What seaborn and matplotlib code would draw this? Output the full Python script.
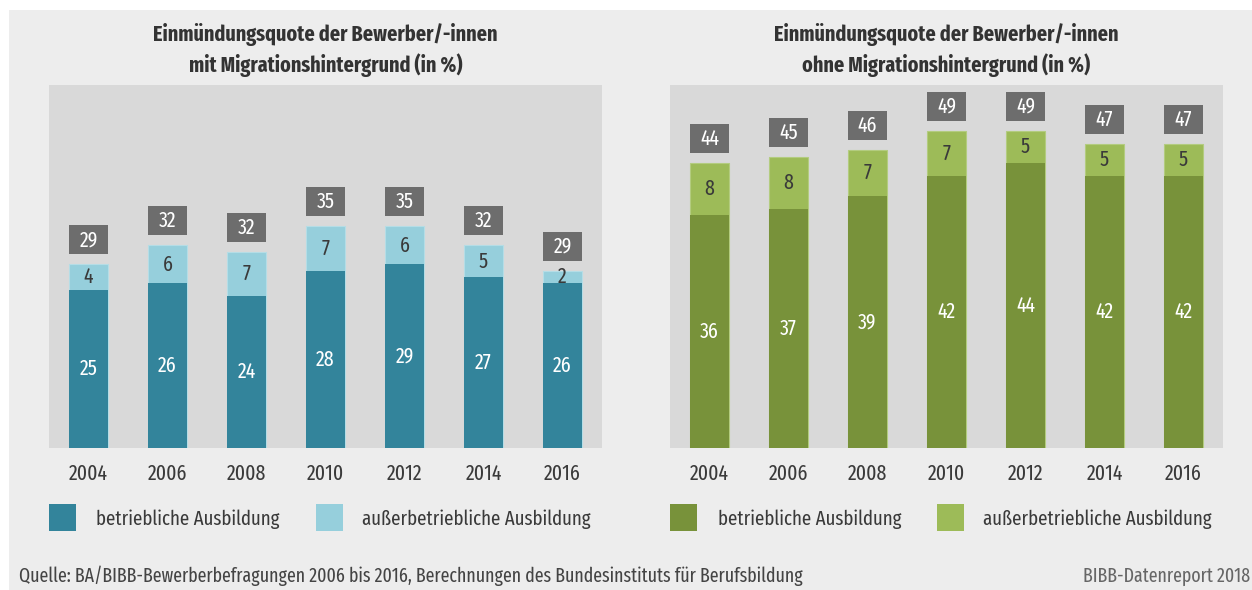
import matplotlib
matplotlib.use("Agg")
import matplotlib.pyplot as plt
from matplotlib.patches import Rectangle
import seaborn as sns
import pandas as pd

# ---- data -------------------------------------------------------------
years = ["2004", "2006", "2008", "2010", "2012", "2014", "2016"]

mit_betrieblich = [25, 26, 24, 28, 29, 27, 26]
mit_ausserbetrieblich = [4, 6, 7, 7, 6, 5, 2]
mit_gesamt = [29, 32, 32, 35, 35, 32, 29]

ohne_betrieblich = [36, 37, 39, 42, 44, 42, 42]
ohne_ausserbetrieblich = [8, 8, 7, 7, 5, 5, 5]
ohne_gesamt = [44, 45, 46, 49, 49, 47, 47]

title_mit = "Einmündungsquote der Bewerber/-innen\nmit Migrationshintergrund (in %)"
title_ohne = "Einmündungsquote der Bewerber/-innen\nohne Migrationshintergrund (in %)"
legend_labels = ["betriebliche Ausbildung", "außerbetriebliche Ausbildung"]
source_text = ("Quelle: BA/BIBB-Bewerberbefragungen 2006 bis 2016, "
               "Berechnungen des Bundesinstituts für Berufsbildung")
report_text = "BIBB-Datenreport 2018"

# ---- style ------------------------------------------------------------
sns.set_theme(style="white")
FONT = ["Fira Sans Extra Condensed", "Fira Sans Condensed", "DejaVu Sans"]
plt.rcParams["font.family"] = FONT

W, H = 1252, 590
BG_OUTER = "#ededed"
BG_PLOT = "#d9d9d9"
BOX = "#6d6d6d"
TXT = "#3a3a3a"

TEAL_DARK, TEAL_LIGHT = "#33849b", "#96cfdc"
GREEN_DARK, GREEN_LIGHT = "#78923a", "#9dbb58"

fig = plt.figure(figsize=(W / 100, H / 100), dpi=100, facecolor="white")


def fx(px):
    return px / W


def fy(py):
    return 1 - py / H


# light grey card behind everything
fig.patches.append(Rectangle((fx(9), 0), 1 - fx(9), fy(10), transform=fig.transFigure,
                             facecolor=BG_OUTER, edgecolor="none", zorder=-5))

PLOT_TOP, PLOT_BOTTOM = 85, 448
BAR_W = 0.506
FS = 15.5


def panel(left_px, right_px, lower, upper, totals, c_dark, c_light, edge_light, ymax, title):
    ax = fig.add_axes([fx(left_px), fy(PLOT_BOTTOM), fx(right_px - left_px),
                       (PLOT_BOTTOM - PLOT_TOP) / H])
    ax.set_facecolor(BG_PLOT)
    df = pd.DataFrame({"Jahr": years, "unten": lower,
                       "summe": [a + b for a, b in zip(lower, upper)]})
    # stacked bars: full stack in the light colour, lower part on top in the dark colour
    sns.barplot(data=df, x="Jahr", y="summe", color=c_light, saturation=1,
                width=BAR_W, edgecolor=edge_light, linewidth=0.8, ax=ax)
    sns.barplot(data=df, x="Jahr", y="unten", color=c_dark, saturation=1,
                width=BAR_W, edgecolor="none", ax=ax)
    ax.set_xlim(-0.5, len(years) - 0.5)
    ax.set_ylim(0, ymax)
    for s in ax.spines.values():
        s.set_visible(False)
    ax.set_xlabel("")
    ax.set_ylabel("")
    ax.set_yticks([])
    ax.tick_params(axis="x", length=0, pad=10.5, labelsize=FS, colors=TXT)

    px_per_unit = (PLOT_BOTTOM - PLOT_TOP) / ymax
    gap = 10 / px_per_unit
    box_h = 29 / px_per_unit
    for i, (lo, up, tot) in enumerate(zip(lower, upper, totals)):
        ax.text(i, lo / 2, f"{lo}", ha="center", va="center", color="white", fontsize=FS)
        ax.text(i, lo + up / 2, f"{up}", ha="center", va="center", color=TXT, fontsize=FS)
        top = lo + up + gap
        ax.add_patch(Rectangle((i - BAR_W / 2, top), BAR_W, box_h, facecolor=BOX,
                               edgecolor="none", clip_on=False, zorder=3))
        ax.text(i, top + box_h / 2, f"{tot}", ha="center", va="center",
                color="white", fontsize=FS, zorder=4)

    cx = fx((left_px + right_px) / 2)
    fig.text(cx, fy(50), title, ha="center", va="center", fontsize=15.7,
             fontweight="bold", color="#333333", linespacing=1.4)
    return ax


panel(49, 602, mit_betrieblich, mit_ausserbetrieblich, mit_gesamt,
      TEAL_DARK, TEAL_LIGHT, "#b5dde6", 57.35, title_mit)
panel(670, 1223, ohne_betrieblich, ohne_ausserbetrieblich, ohne_gesamt,
      GREEN_DARK, GREEN_LIGHT, "#b3cc7f", 56.1, title_ohne)


# legends
def legend_item(x_sq, x_txt, color, label):
    fig.patches.append(Rectangle((fx(x_sq), fy(531)), 27 / W, 27 / H,
                                 transform=fig.transFigure, facecolor=color,
                                 edgecolor="none", zorder=2))
    fig.text(fx(x_txt), fy(519), label, ha="left", va="center", fontsize=14.8, color=TXT)


legend_item(49, 96, TEAL_DARK, legend_labels[0])
legend_item(316, 362, TEAL_LIGHT, legend_labels[1])
legend_item(670, 718, GREEN_DARK, legend_labels[0])
legend_item(937, 983, GREEN_LIGHT, legend_labels[1])

fig.text(fx(19), fy(576), source_text, ha="left", va="center", fontsize=14.0, color="#444444")
fig.text(fx(1250), fy(576), report_text, ha="right", va="center", fontsize=14.0, color="#666666")

fig.savefig("out.png", dpi=100, facecolor=fig.get_facecolor())
